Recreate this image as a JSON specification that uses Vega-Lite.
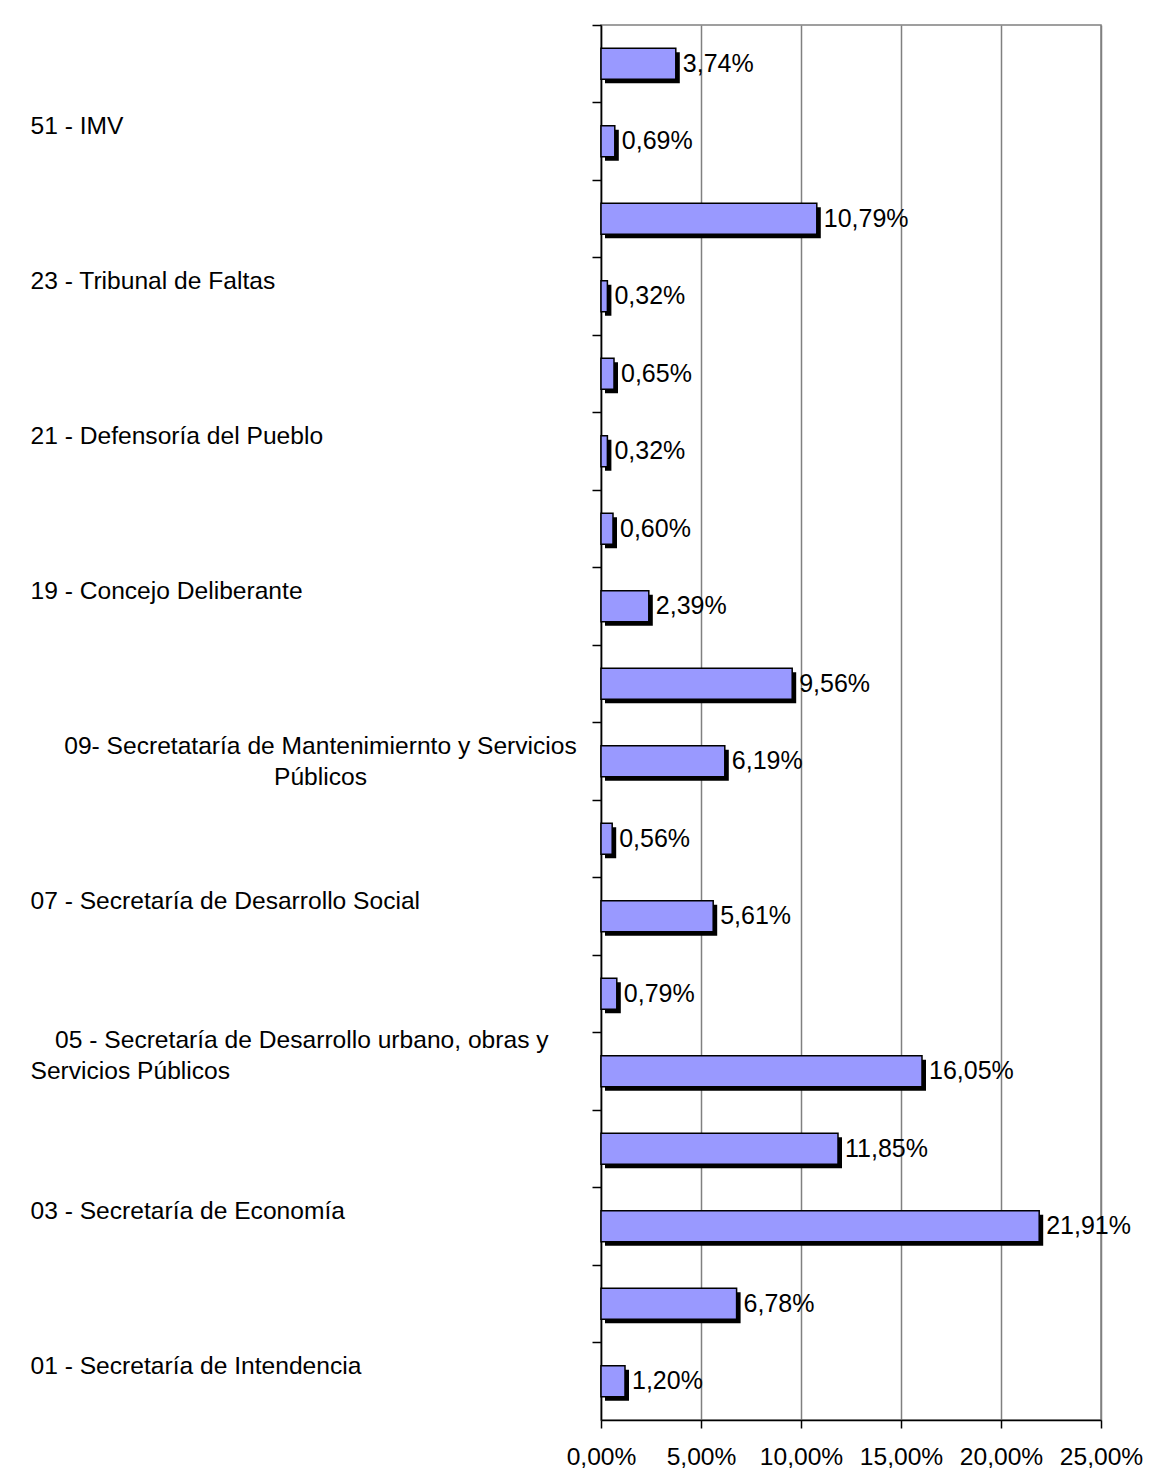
{
  "$schema": "https://vega.github.io/schema/vega-lite/v6.json",
  "width": 500,
  "height": 1395,
  "padding": {"left": 30, "top": 24, "right": 10, "bottom": 10},
  "background": "white",
  "config": {
    "locale": {"number": {"decimal": ",", "thousands": ".", "grouping": [3], "currency": ["", " €"]}},
    "view": {"stroke": "#808080", "strokeWidth": 1.5},
    "font": "Liberation Sans",
    "axis": {"labelFont": "Liberation Sans", "labelFontSize": 24.6, "labelColor": "black", "domainColor": "black", "tickColor": "black", "domainWidth": 1.5, "tickWidth": 1.5, "title": null}
  },
  "data": {
    "values": [
      {"cat": "52", "value": 0.0374},
      {"cat": "51 - IMV", "value": 0.0069},
      {"cat": "24", "value": 0.1079},
      {"cat": "23 - Tribunal de Faltas", "value": 0.0032},
      {"cat": "22", "value": 0.0065},
      {"cat": "21 - Defensoría del Pueblo", "value": 0.0032},
      {"cat": "20", "value": 0.0060},
      {"cat": "19 - Concejo Deliberante", "value": 0.0239},
      {"cat": "10", "value": 0.0956},
      {"cat": "09- Secretataría de Mantenimiernto y Servicios Públicos", "value": 0.0619},
      {"cat": "08", "value": 0.0056},
      {"cat": "07 - Secretaría de Desarrollo Social", "value": 0.0561},
      {"cat": "06", "value": 0.0079},
      {"cat": "05 - Secretaría de Desarrollo urbano, obras y Servicios Públicos", "value": 0.1605},
      {"cat": "04", "value": 0.1185},
      {"cat": "03 - Secretaría de Economía", "value": 0.2191},
      {"cat": "02", "value": 0.0678},
      {"cat": "01 - Secretaría de Intendencia", "value": 0.0120}
    ]
  },
  "encoding": {
    "y": {
      "field": "cat",
      "type": "nominal",
      "sort": null,
      "scale": {"paddingInner": 0, "paddingOuter": 0},
      "axis": {
        "title": null,
        "bandPosition": 0,
        "tickSize": 9,
        "labelAlign": {"condition": {"test": "indexof(datum.value, '09-') == 0", "value": "center"}, "value": "left"},
        "labelBaseline": "middle",
        "labelPadding": {"condition": {"test": "indexof(datum.value, '09-') == 0", "value": 272}, "value": 562},
        "labelOffset": {"condition": {"test": "indexof(datum.value, '05 -') == 0", "value": -30}, "value": -14},
        "labelLineHeight": 31,
        "labelLimit": 700,
        "labelOverlap": false,
        "labelExpr": "length(datum.value) < 4 ? '' : indexof(datum.value, '09-') == 0 ? ['09- Secretataría de Mantenimiernto y Servicios', 'Públicos'] : indexof(datum.value, '05 -') == 0 ? ['\u200b\u2002\u200205 - Secretaría de Desarrollo urbano, obras y', 'Servicios Públicos'] : datum.value"
      }
    }
  },
  "layer": [
    {
      "mark": {"type": "bar", "size": 31, "color": "black", "xOffset": 4, "yOffset": 4},
      "encoding": {
        "x": {
          "field": "value",
          "type": "quantitative",
          "scale": {"domain": [0, 0.25], "nice": false},
          "axis": {
            "title": null,
            "values": [0, 0.05, 0.1, 0.15, 0.2, 0.25],
            "format": ".2%",
            "grid": true,
            "gridColor": "#808080",
            "gridWidth": 1.5,
            "tickSize": 8,
            "labelPadding": 17,
            "labelFlush": false,
            "labelOverlap": false
          }
        }
      }
    },
    {
      "mark": {"type": "bar", "size": 31, "fill": "#9999FF", "stroke": "black", "strokeWidth": 1.5},
      "encoding": {"x": {"field": "value", "type": "quantitative"}}
    },
    {
      "mark": {"type": "text", "align": "left", "baseline": "middle", "dx": 7, "fontSize": 25, "font": "Liberation Sans", "color": "black"},
      "encoding": {
        "x": {"field": "value", "type": "quantitative"},
        "text": {"field": "value", "type": "quantitative", "format": ".2%"}
      }
    }
  ]
}
